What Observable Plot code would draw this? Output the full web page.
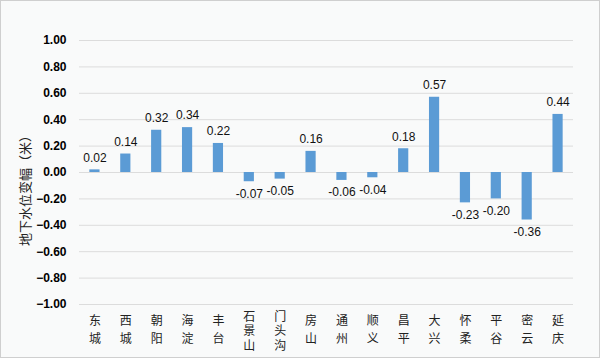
<!DOCTYPE html>
<html><head><meta charset="utf-8">
<script src="https://cdn.jsdelivr.net/npm/d3@7"></script>
<script src="https://cdn.jsdelivr.net/npm/@observablehq/plot@0.6"></script>
<style>body{margin:0;background:#fff}</style>
</head><body><div id="chart"></div>
<script>
const districts = ["东城","西城","朝阳","海淀","丰台","石景山","门头沟","房山","通州","顺义","昌平","大兴","怀柔","平谷","密云","延庆"];
const changes = [0.02,0.14,0.32,0.34,0.22,-0.07,-0.05,0.16,-0.06,-0.04,0.18,0.57,-0.23,-0.20,-0.36,0.44];
const yTicks = [-1,-0.8,-0.6,-0.4,-0.2,0,0.2,0.4,0.6,0.8,1];
const yLabel = "地下水位变幅（米）";

const data = districts.map((d,i)=>({name:d, value:changes[i]}));
const pos = data.filter(d=>d.value>=0), neg = data.filter(d=>d.value<0);
const two = data.filter(d=>d.name.length===2), three = data.filter(d=>d.name.length===3);
const cjk = "'Noto Sans CJK SC', sans-serif";

const chart = Plot.plot({
  width: 600, height: 358,
  marginLeft: 79, marginRight: 27, marginTop: 40, marginBottom: 54,
  style: {background: "#f9fafa", fontFamily: "'Liberation Sans', Arial, sans-serif", fontSize: "12px", color: "#000"},
  x: {domain: districts, paddingInner: 0.67, paddingOuter: 0.335, round: false, axis: null},
  y: {domain: [-1, 1], ticks: yTicks, tickFormat: d3.format(".2f"), grid: false, axis: null},
  marks: [
    Plot.ruleY(yTicks, {stroke: "#dcdcdc", strokeWidth: 1}),
    Plot.barY(data, {x: "name", y: "value", fill: "#5b9bd5"}),
    Plot.text(pos, {x: "name", y: "value", text: d=>d.value.toFixed(2), dy: -12, fontSize: 12, fill: "#111"}),
    Plot.text(neg, {x: "name", y: "value", text: d=>d.value.toFixed(2), dy: 12, fontSize: 12, fill: "#111"}),
    Plot.axisY({ticks: yTicks, tickFormat: d3.format(".2f"), tickSize: 0, tickPadding: 13, fontWeight: "bold", fontSize: 12, label: null}),
    Plot.text(two, {x: "name", y: -1, text: d=>d.name.split("").join("\n"), lineAnchor: "top", lineHeight: 1.5, dy: 8, fontFamily: cjk, fontSize: 12, fill: "#222"}),
    Plot.text(three, {x: "name", y: -1, text: d=>d.name.split("").join("\n"), lineAnchor: "top", lineHeight: 1.2, dy: 6, fontFamily: cjk, fontSize: 12, fill: "#222"}),
    Plot.text([yLabel], {frameAnchor: "left", textAnchor: "middle", text: d=>d, rotate: -90, dx: -54, dy: 15, fontFamily: cjk, fontSize: 13, fill: "#222"})
  ]
});
d3.select(chart).append("rect").attr("x",0.5).attr("y",0.5).attr("width",599).attr("height",357)
  .attr("fill","none").attr("stroke","#cfcfcf");
document.getElementById("chart").appendChild(chart);
</script></body></html>
